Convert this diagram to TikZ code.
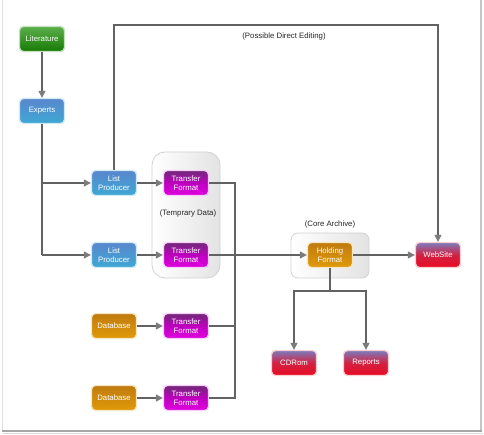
\documentclass[tikz,border=0pt]{standalone}
\usepackage{fontspec}
\setmainfont{Liberation Sans}
\usetikzlibrary{arrows.meta,shadings}
\definecolor{lnc}{HTML}{626262}
\definecolor{arc}{HTML}{7C7C7C}
\definecolor{grnT}{HTML}{3FA12A}\definecolor{grnB}{HTML}{157A05}
\definecolor{bluT}{HTML}{5A86CC}\definecolor{bluB}{HTML}{3DA8D6}
\definecolor{magT}{HTML}{6E2A78}\definecolor{magB}{HTML}{E000E0}
\definecolor{orgT}{HTML}{C07A10}\definecolor{orgB}{HTML}{E09A08}
\definecolor{redT}{HTML}{7C7CBE}\definecolor{redB}{HTML}{E80A22}
\tikzset{
  box/.style={rounded corners=4pt, minimum width=45pt, minimum height=25pt,
    inner sep=1pt, align=center, text=white, font=\fontsize{7.8}{8.6}\selectfont,
    line width=1.3pt},
  green box/.style={box, top color=grnT!85!white, bottom color=grnB, draw=grnB!25!white},
  blue box/.style={box, top color=bluT, bottom color=bluB, draw=bluB!25!white},
  mag box/.style={box, top color=magT, bottom color=magB, middle color=magB!85!black, draw=magB!20!white},
  org box/.style={box, top color=orgT, bottom color=orgB, draw=orgB!25!white},
  red box/.style={box, top color=redT, bottom color=redB, middle color=redB!80!redT, draw=redB!20!white},
  holder/.style={draw=gray!35, line width=0.8pt, left color=white, right color=gray!22},
  conn/.style={draw=lnc, line width=1.1pt},
  arr/.style={conn, -{Triangle[length=7pt,width=7pt,color=arc]}},
  lbl/.style={font=\fontsize{7.8}{9}\selectfont, text=black!85}
}
\begin{document}
\begin{tikzpicture}[x=1pt,y=-1pt]
\useasboundingbox (0,0) rectangle (484,435);
\fill[white] (0,0) rectangle (484,435);
% frame
\draw[gray!25, line width=0.8pt] (2,0) -- (2,430);
\draw[gray!45, line width=1.2pt] (481,0) -- (481,430);
\draw[gray!70, line width=2pt] (2,431) -- (482,431);
\draw[gray!30, line width=1.2pt] (3,433.5) -- (483,433.5);

% containers
\node[holder, rounded corners=13pt, minimum width=68pt, minimum height=126pt] (tmp) at (186,215) {};
\node[holder, rounded corners=7pt, minimum width=78pt, minimum height=45pt] (core) at (330,255.5) {};
\node[lbl] (tmplbl) at (188,213) {(Temprary Data)};
\node[lbl] (corelbl) at (330,224) {(Core Archive)};
\node[lbl] (edlbl) at (284,36) {(Possible Direct Editing)};

% nodes
\node[green box] (lit) at (42,39) {Literature};
\node[blue box] (exp) at (42,111) {Experts};
\node[blue box] (lp1) at (114,183) {List\\Producer};
\node[blue box] (lp2) at (114,255) {List\\Producer};
\node[mag box] (tf1) at (186,183) {Transfer\\Format};
\node[mag box] (tf2) at (186,255) {Transfer\\Format};
\node[org box] (db1) at (114,326) {Database};
\node[mag box] (tf3) at (186,326) {Transfer\\Format};
\node[org box] (db2) at (114,398) {Database};
\node[mag box] (tf4) at (186,398) {Transfer\\Format};
\node[org box] (hold) at (330,255) {Holding\\Format};
\node[red box] (web) at (438,255) {WebSite};
\node[red box] (cd) at (294,363) {CDRom};
\node[red box] (rep) at (366,363) {Reports};

% connectors
\draw[arr] (lit) -- (exp);
\coordinate (ebend) at (42,255);
\draw[conn] (exp) -- (ebend);
\draw[arr] (42,183) -- (lp1);
\draw[arr] (ebend) -- (lp2);
\draw[arr] (lp1) -- (tf1);
\draw[arr] (lp2) -- (tf2);
\draw[arr] (db1) -- (tf3);
\draw[arr] (db2) -- (tf4);
\coordinate (topL) at (114,25);
\coordinate (topR) at (438,25);
\draw[arr] (lp1.north) -- (topL) -- (topR) -- (web.north);
\coordinate (bus1) at (235,183);
\coordinate (bus4) at (235,398);
\draw[conn] (tf1.east) -- (bus1) -- (bus4) -- (tf4.east);
\draw[conn] (tf3.east) -- (235,326);
\draw[arr] (tf2) -- (hold);
\draw[arr] (hold) -- (web);
\coordinate (hsplit) at (330,291);
\draw[conn] (hold.south) -- (hsplit);
\draw[arr] (hsplit) -| (cd.north);
\draw[arr] (hsplit) -| (rep.north);
\end{tikzpicture}
\end{document}
